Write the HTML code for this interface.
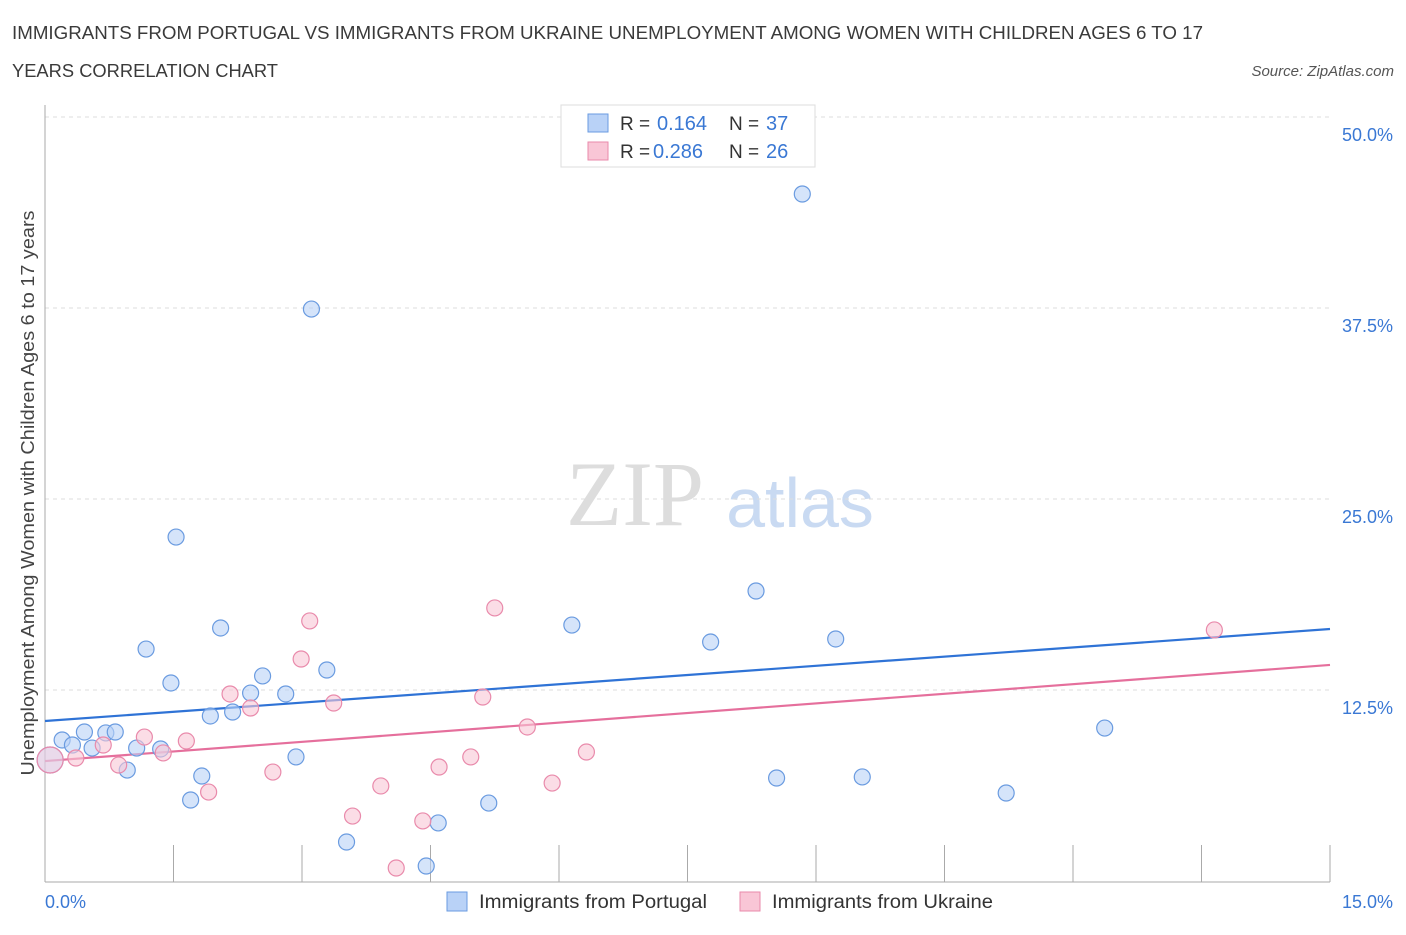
<!DOCTYPE html>
<html><head><meta charset="utf-8"><style>
body{margin:0;background:#fff;font-family:"Liberation Sans",sans-serif;}
</style></head><body>
<svg width="1406" height="930" xmlns="http://www.w3.org/2000/svg" id="chart">
<text x="12" y="39" font-size="18" fill="#3a3a3a" textLength="1191" lengthAdjust="spacingAndGlyphs">IMMIGRANTS FROM PORTUGAL VS IMMIGRANTS FROM UKRAINE UNEMPLOYMENT AMONG WOMEN WITH CHILDREN AGES 6 TO 17</text>
<text x="12" y="77" font-size="18" fill="#3a3a3a" textLength="266" lengthAdjust="spacingAndGlyphs">YEARS CORRELATION CHART</text>
<text x="1394" y="76" font-size="15" fill="#555" font-style="italic" text-anchor="end">Source: ZipAtlas.com</text>
<text x="635" y="525" font-size="92" fill="#ddd" font-family="Liberation Serif" text-anchor="middle">ZIP</text>
<text x="800" y="527" font-size="70" fill="#c9daf2" text-anchor="middle">atlas</text>
<text transform="translate(34,493) rotate(-90)" font-size="18" fill="#444" text-anchor="middle" textLength="565" lengthAdjust="spacingAndGlyphs">Unemployment Among Women with Children Ages 6 to 17 years</text>
<g id="grid"></g><g id="ticks"></g><g id="lines"></g><g id="pts"></g>
<g>
<rect x="561" y="105" width="254" height="62" fill="#fff" stroke="#ddd"/>
<rect x="588" y="114" width="20" height="18" fill="#b9d2f7" stroke="#6a9be0"/>
<rect x="588" y="142" width="20" height="18" fill="#f9c6d6" stroke="#e98aab"/>
<text x="620" y="130" font-size="19" fill="#333">R =</text>
<text x="657" y="130" font-size="20" fill="#3a78d4">0.164</text>
<text x="729" y="130" font-size="19" fill="#333">N =</text>
<text x="766" y="130" font-size="20" fill="#3a78d4">37</text>
<text x="620" y="158" font-size="19" fill="#333">R =</text>
<text x="653" y="158" font-size="20" fill="#3a78d4">0.286</text>
<text x="729" y="158" font-size="19" fill="#333">N =</text>
<text x="766" y="158" font-size="20" fill="#3a78d4">26</text>
</g>
<g>
<rect x="447" y="892" width="20" height="19" fill="#b9d2f7" stroke="#6a9be0"/>
<text x="479" y="908" font-size="19" fill="#333" textLength="228" lengthAdjust="spacingAndGlyphs">Immigrants from Portugal</text>
<rect x="740" y="892" width="20" height="19" fill="#f9c6d6" stroke="#e98aab"/>
<text x="772" y="908" font-size="19" fill="#333" textLength="221" lengthAdjust="spacingAndGlyphs">Immigrants from Ukraine</text>
</g>
</svg>
<script>
const yTicks=[12.5,25,37.5,50];
const yTickLabels=["12.5%","25.0%","37.5%","50.0%"];
const xTickLabels=["0.0%","15.0%"];
const portugalX=[0.06,0.20,0.32,0.46,0.55,0.71,0.82,0.96,1.07,1.18,1.35,1.47,1.53,1.70,1.83,1.93,2.05,2.19,2.40,2.54,2.81,2.93,3.11,3.29,3.52,4.45,4.59,5.18,6.15,7.77,8.30,8.54,8.84,9.23,9.54,11.22,12.37];
const portugalY=[7.92,9.23,8.90,9.75,8.70,9.69,9.75,7.26,8.70,15.18,8.64,12.96,22.51,5.30,6.87,10.80,16.56,11.06,12.30,13.42,12.24,8.12,37.43,13.81,2.55,0.98,3.80,5.10,16.75,15.64,18.98,6.74,44.96,15.84,6.81,5.76,10.01];
const ukraineX=[0.06,0.36,0.68,0.86,1.16,1.38,1.65,1.91,2.16,2.40,2.66,2.99,3.09,3.37,3.59,3.92,4.10,4.41,4.60,4.97,5.11,5.25,5.63,5.92,6.32,13.65];
const ukraineY=[7.92,8.05,8.90,7.59,9.42,8.38,9.16,5.82,12.24,11.32,7.13,14.53,17.02,11.65,4.25,6.22,0.85,3.93,7.46,8.12,12.04,17.87,10.08,6.41,8.44,16.43];
const portugalTrend=[10.47,16.49];
const ukraineTrend=[7.85,14.14];
const NS="http://www.w3.org/2000/svg";
const X=v=>45+v/15*1285, Y=v=>881-v/12.5*191;
function mk(t,a,p){const e=document.createElementNS(NS,t);for(const k in a)e.setAttribute(k,a[k]);document.getElementById(p).appendChild(e);return e;}
yTicks.forEach((t,i)=>{
 const l=mk('line',{x1:45,x2:1330,y1:Y(t),y2:Y(t),stroke:'#ddd','stroke-dasharray':'4,4'},'grid');
 
 
 const tx=mk('text',{x:1393,y:Y(t)+24,'font-size':18,fill:'#3a78d4','text-anchor':'end'},'grid');
 tx.textContent=yTickLabels[i];
 
 
});
const ax=mk('line',{x1:45,x2:1330,y1:882,y2:882,stroke:'#aaa'},'ticks');


const yax=mk('line',{x1:45,x2:45,y1:105,y2:882,stroke:'#aaa'},'ticks');


for(let i=0;i<=10;i++){const t=mk('line',{x1:X(i*1.5),x2:X(i*1.5),y1:845,y2:882,stroke:'#aaa'},'ticks');
 
 }
[[0,'start',45],[15,'end',1393]].forEach((d,i)=>{const t=mk('text',{x:d[2],y:908,'font-size':18,fill:'#3a78d4','text-anchor':d[1]},'ticks');t.textContent=xTickLabels[i];
 
 });
function series(xs,ys,fill,stroke,name){xs.forEach((x,i)=>{const c=mk('circle',{cx:X(x),cy:Y(ys[i]),r:i==0?13:8,fill:fill,'fill-opacity':i==0?0.45:0.6,stroke:stroke,'stroke-width':1.2},'pts');
 
 });}
series(portugalX,portugalY,'#b9d2f7','#6a9be0','portugal-point');
series(ukraineX,ukraineY,'#f9c6d6','#e98aab','ukraine-point');
const l1=mk('line',{x1:X(0),x2:X(15),y1:Y(portugalTrend[0]),y2:Y(portugalTrend[1]),stroke:'#2f73d6','stroke-width':2.2},'lines');


const l2=mk('line',{x1:X(0),x2:X(15),y1:Y(ukraineTrend[0]),y2:Y(ukraineTrend[1]),stroke:'#e56f9c','stroke-width':2.2},'lines');


</script>
</body></html>
